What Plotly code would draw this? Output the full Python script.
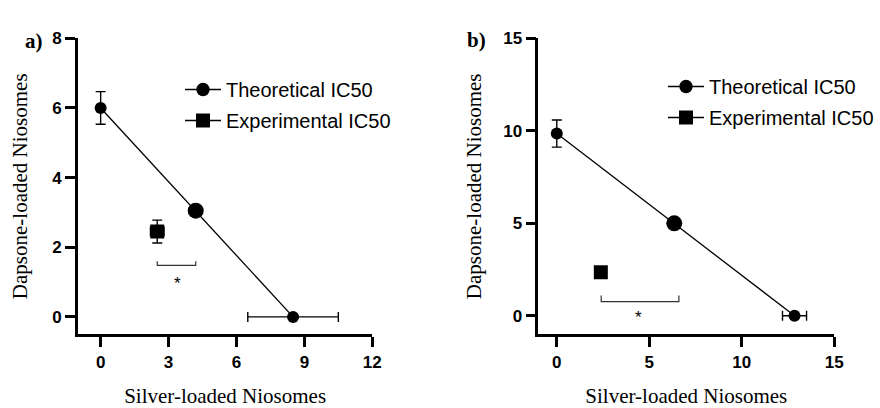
import plotly.graph_objects as go

# ---------------- data: panel a ----------------
a_theo_x = [0.0, 4.2, 8.5]
a_theo_y = [6.0, 3.05, 0.0]
a_theo_yerr = [0.47, 0.0, 0.0]
a_theo_xerr = [0.0, 0.0, 2.0]
a_exp_x = [2.5]
a_exp_y = [2.45]
a_exp_yerr = [0.33]
a_exp_xerr = [0.3]
a_bracket_x = [2.5, 2.5, 4.2, 4.2]
a_bracket_y = [1.6, 1.48, 1.48, 1.6]
a_star_x, a_star_y = 3.4, 0.95
a_xticks = [0, 3, 6, 9, 12]
a_yticks = [0, 2, 4, 6, 8]

# ---------------- data: panel b ----------------
b_theo_x = [0.0, 6.35, 12.85]
b_theo_y = [9.85, 5.0, 0.0]
b_theo_yerr = [0.73, 0.0, 0.0]
b_theo_xerr = [0.0, 0.0, 0.65]
b_exp_x = [2.38]
b_exp_y = [2.35]
b_exp_yerr = [0.0]
b_exp_xerr = [0.0]
b_bracket_x = [2.4, 2.4, 6.6, 6.6]
b_bracket_y = [1.1, 0.77, 0.77, 1.1]
b_star_x, b_star_y = 4.4, -0.1
b_xticks = [0, 5, 10, 15]
b_yticks = [0, 5, 10, 15]

theo_sizes = [12, 16, 12]
LABEL_THEO = "Theoretical IC50"
LABEL_EXP = "Experimental IC50"
X_TITLE = "Silver-loaded Niosomes"
Y_TITLE = "Dapsone-loaded Niosomes"

fig = go.Figure()

def add_panel(xa, ya, legend, tx, ty, tye, txe, ex, ey, eye, exe, bx, by):
    fig.add_trace(go.Scatter(
        x=tx, y=ty, mode="lines+markers", name=LABEL_THEO,
        xaxis=xa, yaxis=ya, legend=legend, legendgroup="t" + legend,
        line=dict(color="black", width=1.3),
        marker=dict(symbol="circle", size=theo_sizes, color="black", opacity=1,
                    line=dict(width=0)),
        error_y=dict(type="data", array=tye, color="black", thickness=1.4, width=5),
        error_x=dict(type="data", array=txe, color="black", thickness=1.4, width=5),
    ))
    fig.add_trace(go.Scatter(
        x=ex, y=ey, mode="lines+markers", name=LABEL_EXP,
        xaxis=xa, yaxis=ya, legend=legend, legendgroup="e" + legend,
        line=dict(color="black", width=1.3),
        marker=dict(symbol="square", size=14, color="black", opacity=1,
                    line=dict(width=0)),
        error_y=dict(type="data", array=eye, color="black", thickness=1.4, width=5),
        error_x=dict(type="data", array=exe, color="black", thickness=1.4, width=5),
    ))
    fig.add_trace(go.Scatter(
        x=bx, y=by, mode="lines", showlegend=False, hoverinfo="skip",
        xaxis=xa, yaxis=ya, line=dict(color="#333333", width=1.2),
    ))

add_panel("x", "y", "legend", a_theo_x, a_theo_y, a_theo_yerr, a_theo_xerr,
          a_exp_x, a_exp_y, a_exp_yerr, a_exp_xerr, a_bracket_x, a_bracket_y)
add_panel("x2", "y2", "legend2", b_theo_x, b_theo_y, b_theo_yerr, b_theo_xerr,
          b_exp_x, b_exp_y, b_exp_yerr, b_exp_xerr, b_bracket_x, b_bracket_y)

tickfont = dict(family="Liberation Sans, Arial", size=17, color="black", weight="bold")
titlefont = dict(family="Liberation Serif, Times New Roman", size=21, color="black")

def xaxis(dom, rng, ticks, anchor):
    return dict(domain=dom, range=rng, tickvals=ticks, anchor=anchor,
                showline=True, linecolor="black", linewidth=2.6,
                ticks="outside", ticklen=10, tickwidth=2.6, tickcolor="black",
                showgrid=False, zeroline=False, tickfont=tickfont,
                title=dict(text=X_TITLE, font=titlefont, standoff=18),
                automargin=False, fixedrange=True)

def yaxis(dom, rng, ticks, anchor, standoff):
    return dict(domain=dom, range=rng, tickvals=ticks, anchor=anchor,
                showline=True, linecolor="black", linewidth=2.6,
                ticks="outside", ticklen=10, tickwidth=2.6, tickcolor="black",
                showgrid=False, zeroline=False, tickfont=tickfont,
                title=dict(text=Y_TITLE, font=titlefont, standoff=standoff),
                automargin=False, fixedrange=True)

ydom = [1 - 334.3 / 408, 1 - 38.3 / 408]
legfont = dict(family="Liberation Sans, Arial", size=20, color="black")

fig.update_layout(
    width=880, height=408,
    margin=dict(l=0, r=0, t=0, b=0),
    paper_bgcolor="white", plot_bgcolor="white",
    showlegend=True,
    xaxis=xaxis([78 / 880, 372.3 / 880], [-1, 12], a_xticks, "y"),
    yaxis=yaxis(ydom, [-0.5, 8], a_yticks, "x", 19),
    xaxis2=xaxis([538.3 / 880, 834.3 / 880], [-1, 15], b_xticks, "y2"),
    yaxis2=yaxis(ydom, [-1, 15], b_yticks, "x2", 16),
    legend=dict(x=180 / 880, y=1 - 70 / 408, xanchor="left", yanchor="top",
                font=legfont, bgcolor="rgba(0,0,0,0)", tracegroupgap=2,
                traceorder="grouped", itemwidth=36),
    legend2=dict(x=663 / 880, y=1 - 67 / 408, xanchor="left", yanchor="top",
                 font=legfont, bgcolor="rgba(0,0,0,0)", tracegroupgap=2,
                 traceorder="grouped", itemwidth=36),
    annotations=[
        dict(text="*", x=a_star_x, y=a_star_y, xref="x", yref="y", showarrow=False,
             font=dict(family="Liberation Sans, Arial", size=17, color="black")),
        dict(text="*", x=b_star_x, y=b_star_y, xref="x2", yref="y2", showarrow=False,
             font=dict(family="Liberation Sans, Arial", size=17, color="black")),
        dict(text="<b>a)</b>", x=23 / 880, y=1 - 27 / 408, xref="paper", yref="paper",
             showarrow=False, font=dict(family="Liberation Serif, Times New Roman", size=21, color="black")),
        dict(text="<b>b)</b>", x=477 / 880, y=1 - 26 / 408, xref="paper", yref="paper",
             showarrow=False, font=dict(family="Liberation Serif, Times New Roman", size=21, color="black")),
    ],
)

fig.write_html("out.html", config={"displayModeBar": False},
               post_script="document.body.style.margin='0';document.body.style.overflow='hidden';")
